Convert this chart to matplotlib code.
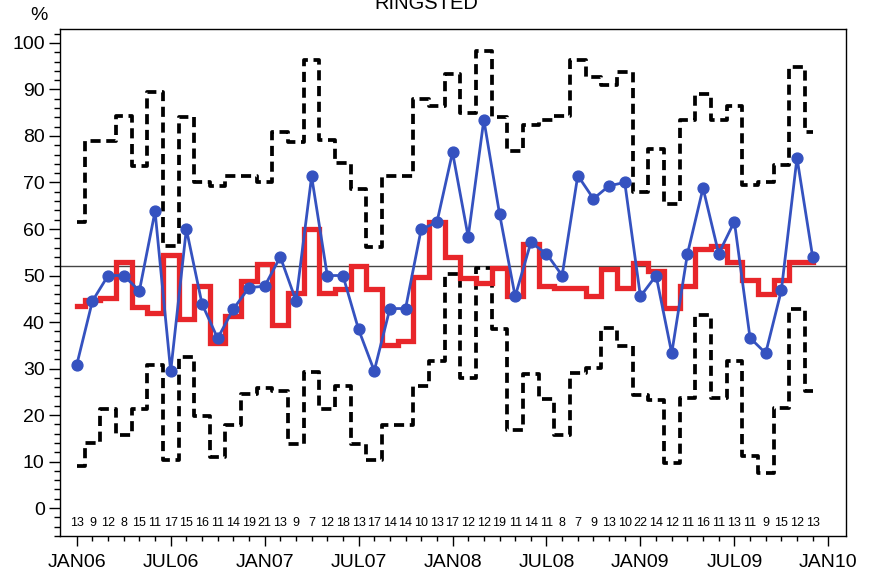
import matplotlib
matplotlib.use("Agg")
import matplotlib.pyplot as plt
from matplotlib.ticker import FixedLocator, MultipleLocator

plt.rcParams["font.family"] = ["Liberation Sans", "DejaVu Sans"]

# ---------- data (monthly, JAN06 .. DEC09) ----------

tick_labels = ["JAN06", "JUL06", "JAN07", "JUL07", "JAN08",
               "JUL08", "JAN09", "JUL09", "JAN10"]

# observed percentage (blue)
observed = [30.8, 44.5, 50.0, 50.0, 46.7, 63.8, 29.4, 60.0, 43.9, 36.5, 42.8, 47.4,
            47.7, 54.0, 44.6, 71.3, 50.0, 50.0, 38.4, 29.5, 42.9, 42.9, 60.0, 61.4,
            76.5, 58.3, 83.5, 63.3, 45.5, 57.1, 54.7, 50.0, 71.5, 66.5, 69.3, 70.0,
            45.5, 50.0, 33.3, 54.6, 68.8, 54.7, 61.6, 36.6, 33.3, 46.8, 75.3, 54.0]

# expected percentage (red step)
expected = [43.4, 44.8, 45.2, 52.8, 43.2, 41.9, 54.5, 40.6, 47.8, 35.6, 41.4, 48.9,
            52.5, 39.4, 46.2, 60.1, 46.2, 47.0, 52.0, 47.1, 35.0, 36.0, 49.6, 61.6,
            54.0, 49.5, 48.4, 51.6, 45.5, 56.8, 47.8, 47.3, 47.3, 45.5, 51.3, 47.3,
            52.7, 50.9, 43.0, 47.8, 55.7, 56.4, 53.0, 49.1, 46.1, 49.1, 53.0, 53.0]

# control limits (dashed)
upper = [61.6, 79.0, 79.0, 84.4, 73.6, 89.4, 56.3, 84.1, 70.2, 69.3, 71.3, 71.3,
         70.2, 80.9, 78.8, 96.4, 79.1, 74.2, 68.7, 56.1, 71.3, 71.3, 88.0, 86.4,
         93.4, 84.9, 98.2, 84.0, 76.7, 82.4, 83.5, 84.4, 96.4, 92.7, 91.0, 93.7,
         68.0, 77.1, 65.4, 83.5, 89.0, 83.4, 86.4, 69.4, 70.2, 73.7, 94.8, 80.9]

lower = [9.1, 14.0, 21.3, 15.8, 21.3, 30.8, 10.4, 32.4, 19.8, 10.9, 17.9, 24.5,
         25.9, 25.1, 13.8, 29.2, 21.3, 26.2, 13.8, 10.4, 17.9, 17.9, 26.2, 31.7,
         50.4, 28.0, 51.6, 38.6, 16.8, 28.8, 23.5, 15.8, 29.0, 30.1, 38.7, 34.9,
         24.4, 23.3, 9.8, 23.7, 41.5, 23.7, 31.7, 11.1, 7.5, 21.5, 42.9, 25.1]

# number of cases per month
counts = [13, 9, 12, 8, 15, 11, 17, 15, 16, 11, 14, 19,
          21, 13, 9, 7, 12, 18, 13, 17, 14, 14, 10, 13,
          17, 12, 12, 19, 11, 14, 11, 8, 7, 9, 13, 10,
          22, 14, 12, 11, 16, 11, 13, 11, 9, 15, 12, 13]

center_line = 52.0


def main():
    months = list(range(len(observed)))

    fig = plt.figure(figsize=(8.71, 5.75), dpi=100)
    ax = fig.add_axes([60 / 871, 39 / 575, 786 / 871, 507 / 575])

    ax.axhline(center_line, color="#444444", lw=1.0, zorder=1)

    # kontrolgrænser
    for lim in (upper, lower):
        ax.plot(months, lim, drawstyle="steps-mid", color="black", lw=2.7,
                dashes=(2.7, 1.5), zorder=2)

    ax.plot(months, expected, drawstyle="steps-mid", color="#e8262a",
            lw=3.8, solid_joinstyle="miter", zorder=3)
    ax.plot(months, observed, color="#3552c0", lw=2.0, marker="o",
            markersize=7.8, zorder=4)

    for m, n in zip(months, counts):
        ax.text(m, -3.1, str(n), ha="center", va="center", fontsize=9)

    ax.set_xlim(-1.07, 49.13)
    ax.set_ylim(-6, 103)

    ax.xaxis.set_major_locator(FixedLocator(range(0, 49, 6)))
    ax.xaxis.set_minor_locator(FixedLocator([m for m in range(1, 48) if m % 6]))
    ax.set_xticklabels(tick_labels, fontsize=14)
    ax.yaxis.set_major_locator(MultipleLocator(10))
    ax.yaxis.set_minor_locator(MultipleLocator(2))
    ax.set_yticks(range(0, 101, 10))
    ax.tick_params(axis="y", which="major", direction="out", length=8, width=1,
                   labelsize=14, pad=3)
    ax.tick_params(axis="y", which="minor", direction="out", length=4, width=1)
    ax.tick_params(axis="x", which="major", direction="out", length=7, width=1,
                   pad=6)
    ax.tick_params(axis="x", which="minor", direction="out", length=3.5, width=1)

    for sp in ax.spines.values():
        sp.set_linewidth(1.0)

    fig.text(426 / 871, 1 - 9 / 575, "RINGSTED", ha="center", va="baseline",
             fontsize=14.5)
    fig.text(39 / 871, 1 - 15.5 / 575, "%", ha="center", va="center", fontsize=14)

    fig.savefig("out.png", dpi=100)


if __name__ == "__main__":
    main()
